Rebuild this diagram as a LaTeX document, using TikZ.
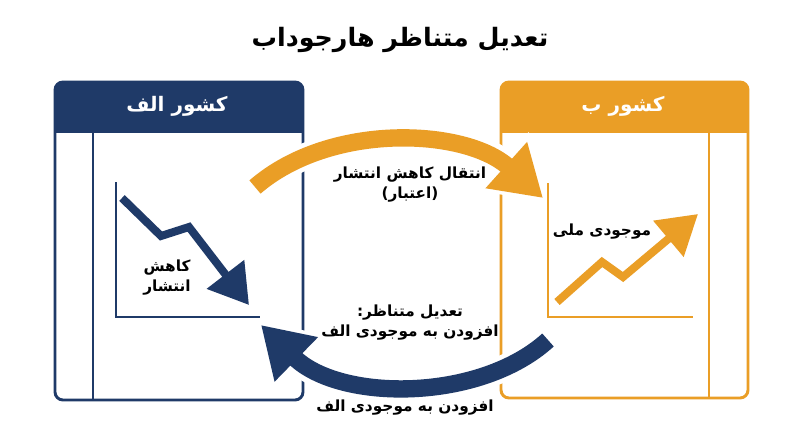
\documentclass[tikz,border=0pt]{standalone}
\usepackage{fontspec}
\newfontfamily\ar[Script=Arabic]{DejaVu Sans}
\TeXXeTstate=1
\usetikzlibrary{arrows.meta}
\definecolor{navy}{RGB}{31,58,104}
\definecolor{amber}{RGB}{234,158,38}
\tikzset{
  lbl/.style={font=\ar\bfseries\fontsize{11.5}{15}\selectfont, align=center, text=black, inner sep=0pt},
  hdr/.style={font=\ar\bfseries\fontsize{15}{18}\selectfont, text=white, inner sep=0pt},
  ttl/.style={font=\ar\bfseries\fontsize{19}{22}\selectfont, text=black, inner sep=0pt},
  frame/.style={line width=2.2pt, rounded corners=6pt},
  divider/.style={line width=2.2pt},
  axis/.style={line width=1.6pt},
  zig/.style={line width=6pt, line join=miter, -{Triangle[length=29pt,width=34pt]}},
  bigarrow/.style={line width=13pt, -{Triangle[length=37pt,width=44pt]}},
  halo/.style={white, line width=20pt, shorten >=-4pt, -{Triangle[length=45pt,width=56pt]}},
}
\begin{document}
\begin{tikzpicture}[x=0.75pt,y=-0.75pt]
\useasboundingbox (0,0) rectangle (800,447);
\fill[white] (0,0) rectangle (800,447);

% title
\node[ttl] (title) at (400,40) {\beginR تعدیل متناظر هارجوداب\endR};

% ---- box A (left, navy)
\fill[navy] (55,132) {[rounded corners=6pt] -- (55,82) -- (303,82)} -- (303,132) -- cycle;
\draw[navy, frame] (55,82) rectangle (303,400);
\draw[navy, divider] (55,132) -- (303,132);
\draw[navy, divider] (93,132) -- (93,400);
\node[hdr] (hA) at (177,106) {\beginR کشور الف\endR};
\draw[navy, axis] (116,182) -- (116,317) -- (260,317);
\coordinate (a1) at (122,198);
\coordinate (a2) at (161,236);
\coordinate (a3) at (189,227);
\coordinate (a4) at (249,305);
\draw[navy, zig] (a1) -- (a2) -- (a3) -- (a4);
\node[lbl] (lA) at (167,278) {\beginR کاهش\endR\\\beginR انتشار\endR};

% ---- box B (right, amber)
\fill[amber] (501,132) {[rounded corners=6pt] -- (501,82) -- (748,82)} -- (748,132) -- cycle;
\draw[amber, frame] (501,82) rectangle (748,398);
\draw[amber, divider] (501,132) -- (748,132);
\draw[amber, divider] (709,132) -- (709,398);
\node[hdr] (hB) at (623,106) {\beginR کشور ب\endR};
\draw[amber, axis] (548,183) -- (548,317) -- (693,317);
\coordinate (b1) at (557,302);
\coordinate (b2) at (602,262);
\coordinate (b3) at (623,277);
\coordinate (b4) at (698,214);
\draw[amber, zig] (b1) -- (b2) -- (b3) -- (b4);
\node[lbl] (lB) at (602,232) {\beginR موجودی ملی\endR};

% ---- orange transfer arrow
\coordinate (oS) at (255,187);
\coordinate (oE) at (543,198);
\draw[halo] (oS) .. controls (330,122) and (465,128) .. (oE);
\draw[amber, bigarrow] (oS) .. controls (330,122) and (465,128) .. (oE);
\node[lbl] (lO) at (410,185) {\beginR انتقال کاهش انتشار\endR\\\beginR (اعتبار)\endR};

% ---- navy adjustment arrow
\coordinate (nS) at (548,340);
\coordinate (nE) at (261,325);
\draw[halo] (nS) .. controls (480,402) and (340,402) .. (nE);
\draw[navy, bigarrow] (nS) .. controls (480,402) and (340,402) .. (nE);
\node[lbl] (lN) at (410,323) {\beginR تعدیل متناظر:\endR\\\beginR افزودن به موجودی الف\endR};

\node[lbl] (lBot) at (405,408) {\beginR افزودن به موجودی الف\endR};
\end{tikzpicture}
\end{document}
